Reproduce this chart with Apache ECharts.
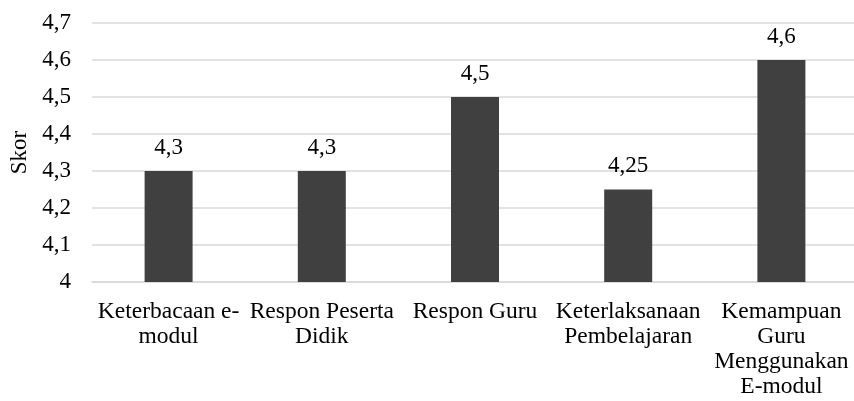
<!DOCTYPE html>
<html>
<head>
<meta charset="utf-8">
<script src="https://cdn.jsdelivr.net/npm/echarts@6/dist/echarts.min.js"></script>
<style>
  html, body { margin: 0; padding: 0; background: #fff; }
  #chart { width: 854px; height: 401px; }
</style>
</head>
<body>
<div id="chart"></div>
<script>
// Score categories (line breaks as shown under the axis)
const categories = [
  'Keterbacaan e-\nmodul',
  'Respon Peserta\nDidik',
  'Respon Guru',
  'Keterlaksanaan\nPembelajaran',
  'Kemampuan\nGuru\nMenggunakan\nE-modul'
];
const scores = [4.3, 4.3, 4.5, 4.25, 4.6];
const axisName = 'Skor';
const yMin = 4, yMax = 4.7, yStep = 0.1;

const FONT = '"Liberation Serif", "Times New Roman", serif';
const comma = v => String(Math.round(v * 100) / 100).replace('.', ',');

const chart = echarts.init(document.getElementById('chart'), null, { renderer: 'canvas' });
chart.setOption({
  animation: false,
  textStyle: { fontFamily: FONT },
  grid: {
    left: 92, right: -4, top: 23, bottom: 119,
    containLabel: false, outerBoundsMode: 'none'
  },
  xAxis: {
    type: 'category',
    data: categories,
    axisTick: { show: false },
    axisLine: { lineStyle: { color: '#d9d9d9', width: 1.5 } },
    axisLabel: {
      interval: 0, color: '#000', fontFamily: FONT, fontSize: 23.5,
      lineHeight: 25, margin: 17
    }
  },
  yAxis: {
    type: 'value',
    min: yMin, max: yMax, interval: yStep,
    name: axisName,
    nameLocation: 'middle',
    nameGap: 60,
    nameRotate: 90,
    nameTextStyle: { color: '#000', fontFamily: FONT, fontSize: 23 },
    axisLine: { show: false },
    axisTick: { show: false },
    splitLine: { lineStyle: { color: '#d9d9d9', width: 1.5 } },
    axisLabel: {
      color: '#000', fontFamily: FONT, fontSize: 23, margin: 21,
      formatter: comma
    }
  },
  series: [{
    type: 'bar',
    data: scores,
    barWidth: 48,
    itemStyle: { color: '#404040' },
    label: {
      show: true, position: 'top', distance: 12,
      color: '#000', fontFamily: FONT, fontSize: 23,
      formatter: p => comma(p.value)
    }
  }]
});
</script>
</body>
</html>
